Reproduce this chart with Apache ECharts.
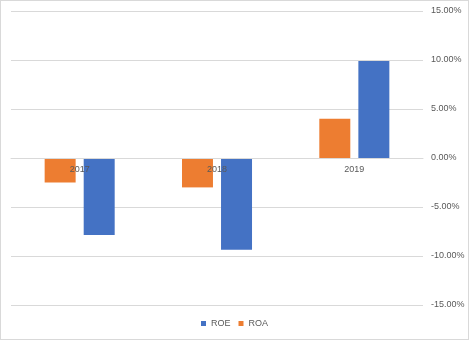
<!DOCTYPE html>
<html>
<head>
<meta charset="utf-8">
<script src="https://cdn.jsdelivr.net/npm/echarts@6/dist/echarts.min.js"></script>
<style>
html,body{margin:0;padding:0;background:#fff;}
#c{width:467px;height:338px;border:1px solid #d9d9d9;}
</style>
</head>
<body>
<div id="c"></div>
<script>
var categories = ['2017', '2018', '2019'];
var roa = [-2.5, -3.0, 4.0];
var roe = [-7.85, -9.35, 9.9];
var yTicks = [-15, -10, -5, 0, 5, 10, 15];

var chart = echarts.init(document.getElementById('c'));
chart.setOption({
  animation: false,
  grid: {left: 10, right: 45, top: 10, bottom: 34},
  legend: {
    data: ['ROE', 'ROA'],
    bottom: 6,
    left: 'center',
    itemWidth: 5,
    itemHeight: 5,
    itemGap: 8,
    icon: 'rect',
    textStyle: {fontFamily: 'Liberation Sans', fontSize: 9, color: '#595959'}
  },
  xAxis: {
    type: 'category',
    data: categories,
    z: 10,
    offset: -147,
    axisLine: {onZero: false, lineStyle: {color: '#d9d9d9'}},
    axisTick: {show: false},
    axisLabel: {fontFamily: 'Liberation Sans', fontSize: 9, color: '#595959', margin: 7}
  },
  yAxis: {
    type: 'value',
    position: 'right',
    min: yTicks[0],
    max: yTicks[yTicks.length - 1],
    interval: 5,
    axisLine: {show: false},
    axisTick: {show: false},
    splitLine: {lineStyle: {color: '#d9d9d9'}},
    axisLabel: {
      fontFamily: 'Liberation Sans', fontSize: 9, color: '#595959', margin: 8,
      formatter: function (v) { return v.toFixed(2) + '%'; }
    }
  },
  series: [
    {name: 'ROA', type: 'bar', data: roa, itemStyle: {color: '#ED7D31'}, barGap: '26%', barCategoryGap: '49%'},
    {name: 'ROE', type: 'bar', data: roe, itemStyle: {color: '#4472C4'}, barGap: '26%', barCategoryGap: '49%'}
  ]
});
</script>
</body>
</html>
